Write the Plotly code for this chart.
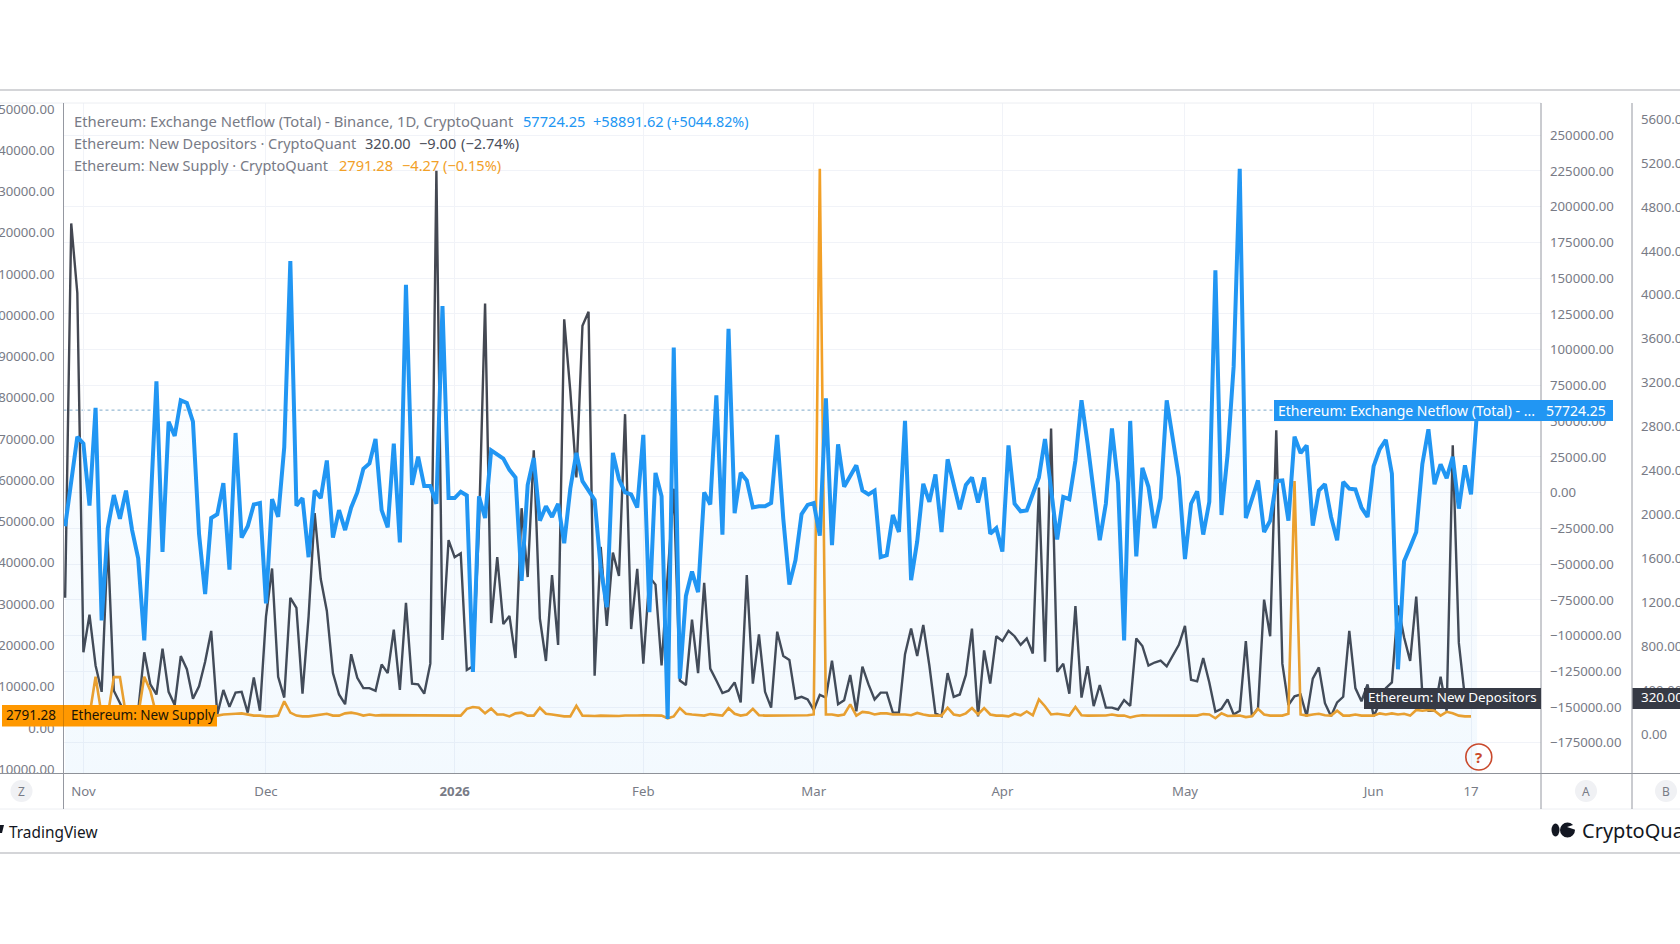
import pandas as pd
import plotly.graph_objects as go

# Daily series, all starting 2025-10-29
netflow = [
    -23550, 8034, 39092, 34354, -9074, 59358, -89350, -24866, -1704, -18286,
    1454, -26182, -45922, -103300, -10390, 77782, -41448, 49620, 39618, 64622,
    62780, 49620, -28814, -70926, -17760, -15128, 6718, -53818, 41724, -31446,
    -23550, -8284, -7232, -77506, -4600, -16970, 31722, 162006, -9074, -3810,
    -45132, 1454, -3810, 22510, -31446, -12232, -26182, -10390, 138, 16720,
    20404, 37512, -12232, -24340, 34354, -34868, 145424, 5402, 25142, 4612,
    4612, -7758, 130422, -3810, -3810, 664, -1968, -125408, -2494, -17760,
    29616, 26984, 23826, 15930, 10666, -61714, 5402, 24352, -19602, -9600,
    -16970, -7758, -35394, 2770, 27774, 8034, 1454, -5126, -52502, -80138,
    27774, 9350, 138, -1178, -10390, 40408, -83560, 13824, -2494, -158308,
    101470, -130146, -72242, -55134, -69610, 138, -8284, 68044, -29340, 114630,
    -14338, 13824, 8560, -10390, -9600, -9600, -7232, 40408, -18286, -64346,
    -47238, -15128, -8548, -7232, -30130, 65938, -36710, 33828, 4086, 11982,
    19088, 1454, -1178, 1454, -45132, -43816, -15654, -27498, 50146, -61188,
    -34078, 6192, -6442, 12772, -27498, 23300, 6718, -11706, 5402, 10666,
    -6968, 10666, -28814, -24866, -41184, 33038, -7758, -13022, -12496, -1178,
    10666, 37512, 138, -32762, -3020, -4600, 22510, 64622, 34354, 2770,
    -33288, -7758, 44882, 6718, -103300, 50146, -44606, 17246, 4086, -24866,
    -3810, 64622, 39618, 10666, -46448, -7758, 928, -29340, -6442, 155426,
    -15654, 26458, 88310, 226490, -17760, -3810, 8560, -27498, -19602, 8034,
    8560, -19602, 39092, 27774, 33038, -23024, 1454, 5928, -16970, -33288,
    7508, 2770, 2244, -10390, -16970, 18562, 30406, 36986, 13298, -123566,
    -48028, -38026, -27498, 19878, 44356, 5928, 19878, 10140, 25142, -11180,
    19088, -1167.37, 57724.25,
]

depositors = [
    1240, 4651, 4017, 743, 1086, 623, 383, 1754, 393, 280,
    170, 160, 211, 743, 451, 359, 777, 383, 263, 709,
    589, 321, 434, 657, 938, 177, 400, 246, 376, 383,
    194, 513, 211, 1069, 1507, 520, 331, 1240, 1147, 366,
    1069, 2011, 1411, 1120, 554, 359, 270, 726, 510, 417,
    417, 393, 633, 554, 949, 400, 1195, 458, 451, 366,
    640, 5131, 856, 1765, 1610, 1645, 582, 616, 1891, 3921,
    1010, 1610, 1000, 1075, 691, 2056, 1429, 2584, 1051, 664,
    1446, 811, 3777, 3126, 2337, 3719, 3846, 530, 1703, 983,
    1651, 1439, 2913, 955, 1504, 640, 1429, 1360, 623, 1446,
    2234, 486, 445, 1041, 554, 1377, 595, 486, 372, 393,
    469, 287, 1446, 458, 907, 383, 239, 931, 709, 674,
    321, 338, 314, 218, 355, 331, 667, 270, 307, 537,
    205, 613, 451, 314, 376, 376, 194, 194, 726, 959,
    709, 993, 623, 187, 160, 554, 338, 359, 537, 959,
    160, 760, 458, 890, 846, 938, 890, 811, 870, 733,
    2245, 657, 2783, 565, 640, 366, 1165, 331, 616, 253,
    445, 239, 239, 222, 307, 256, 870, 801, 623, 650,
    667, 616, 719, 811, 983, 493, 479, 691, 469, 201,
    229, 314, 177, 211, 846, 160, 235, 1223, 890, 2766,
    640, 263, 342, 359, 160, 503, 606, 280, 160, 287,
    338, 938, 417, 297, 451, 160, 280, 417, 469, 1171,
    880, 664, 1250, 366, 211, 211, 520, 211, 2629, 829,
    329, 320,
]

new_supply = [
    2980, 3000, 3050, 3000, 3000, 12400, 3100, 3000, 12300, 12300,
    3100, 3000, 3000, 12400, 9000, 3100, 3000, 3000, 2980, 3100,
    3000, 2950, 3000, 3050, 3000, 2980, 3253, 3435, 3435, 3527,
    3253, 2980, 2980, 2797, 2797, 2980, 6445, 3709, 2980, 2797,
    2797, 2980, 3253, 3435, 2980, 2980, 3527, 3709, 3435, 2980,
    3250, 3000, 3100, 3100, 2980, 2980, 2980, 3000, 2980, 2980,
    3000, 3050, 3100, 3000, 2980, 2980, 4621, 5077, 4895, 3527,
    4712, 3253, 3253, 2797, 3527, 3709, 2980, 2980, 4895, 3435,
    3253, 2980, 2797, 2797, 5351, 2980, 2888, 2888, 2980, 2900,
    3000, 2900, 3000, 2950, 3000, 3050, 3000, 2950, 2980, 2341,
    2797, 4803, 3435, 3253, 3071, 2980, 3344, 3071, 2980, 4803,
    3435, 2980, 3253, 4621, 3071, 2980, 2980, 2980, 2950, 2980,
    2980, 3050, 3050, 3253, 135500, 3253, 3253, 2980, 3253, 5713,
    2980, 3891, 3709, 3253, 3527, 3527, 3253, 3253, 3253, 3071,
    3618, 3253, 2980, 2980, 2980, 4895, 3253, 2980, 3527, 4803,
    3253, 4803, 3253, 2980, 2980, 2797, 3435, 3071, 3983, 3071,
    6901, 5259, 3253, 3435, 3253, 2980, 5077, 3071, 2980, 2980,
    2980, 3000, 3253, 2980, 2980, 2523, 2888, 3071, 3000, 2980,
    2980, 2980, 2980, 2980, 2980, 3000, 2980, 3344, 3253, 2341,
    3527, 2888, 2980, 2980, 2615, 2797, 4621, 3253, 2980, 2980,
    2980, 3435, 59800, 3253, 2980, 3253, 3435, 3071, 2980, 4165,
    2980, 2980, 3253, 2980, 2980, 2980, 3527, 3253, 3527, 3253,
    3435, 2980, 4347, 4165, 4347, 4165, 2980, 3891, 3527, 2980,
    2795.55, 2791.28,
]

assert len(netflow) == 233 and len(depositors) == 232 and len(new_supply) == 232

days = pd.date_range("2025-10-29", periods=len(netflow), freq="D")

tick_dates = ["2025-11-01", "2025-12-01", "2026-01-01", "2026-02-01", "2026-03-01",
              "2026-04-01", "2026-05-01", "2026-06-01", "2026-06-17"]
tick_labels = ["Nov", "Dec", "<b>2026</b>", "Feb", "Mar", "Apr", "May", "Jun", "17"]

W, H = 1680, 944
BLUE, DARK, ORANGE = "#2196f3", "#444852", "#f2a027"
GREY = "#787b86"
RULE = "#9598a1"
GRID = "#f1f3f8"
VALUE_DARK = "#4a4e59"
FONT = "Noto Sans"


def fx(px):
    return px / W


def fy(py):
    return 1 - py / H


NETFLOW_RANGE = [-196434, 272517]
fig = go.Figure()

fig.add_trace(go.Scatter(x=days[:len(depositors)], y=depositors, yaxis="y", mode="lines",
                         line=dict(color=DARK, width=2.4), hoverinfo="skip"))
fig.add_trace(go.Scatter(x=days[:len(new_supply)], y=new_supply, yaxis="y2", mode="lines",
                         line=dict(color=ORANGE, width=2.6), hoverinfo="skip"))
# Area under the netflow line reaches down to the bottom of the pane
fig.add_trace(go.Scatter(x=days, y=[NETFLOW_RANGE[0]] * len(days), yaxis="y3", mode="lines",
                         line=dict(width=0), hoverinfo="skip"))
fig.add_trace(go.Scatter(x=days, y=netflow, yaxis="y3", mode="lines", fill="tonexty",
                         fillgradient=dict(type="vertical", start=NETFLOW_RANGE[0], stop=60000,
                                           colorscale=[[0, "rgba(33,150,243,0.055)"],
                                                       [1, "rgba(33,150,243,0.02)"]]),
                         line=dict(color=BLUE, width=4), hoverinfo="skip"))


def line(x0, y0, x1, y1, color=RULE, width=1, dash="solid", layer="above"):
    return dict(type="line", xref="paper", yref="paper", x0=fx(x0), y0=fy(y0), x1=fx(x1), y1=fy(y1),
                line=dict(color=color, width=width, dash=dash), layer=layer)


def box(x0, y0, x1, y1, fill):
    return dict(type="rect", xref="paper", yref="paper", x0=fx(x0), y0=fy(y0), x1=fx(x1), y1=fy(y1),
                fillcolor=fill, line=dict(width=0), layer="above")


def disc(cx, cy, r, fill, stroke=None, stroke_w=0):
    return dict(type="circle", xref="paper", yref="paper", x0=fx(cx - r), y0=fy(cy - r),
                x1=fx(cx + r), y1=fy(cy + r), fillcolor=fill,
                line=dict(color=stroke or fill, width=stroke_w), layer="above")


def poly(points, fill):
    path = "M" + " L".join(f"{fx(a):.5f},{fy(b):.5f}" for a, b in points) + " Z"
    return dict(type="path", xref="paper", yref="paper", path=path, fillcolor=fill,
                line=dict(width=0), layer="above")


shapes = [
    line(0, 90, W, 90, color="#a9abb1"),
    line(0, 853, W, 853, color="#a9abb1"),
    line(0, 103, 1541, 103, color="#eceef2"),
    line(0, 773.5, W, 773.5, color="#8f9299"),
    line(0, 809, W, 809, color="#eceef2"),
    line(63.5, 103, 63.5, 809),
    line(1541, 103, 1541, 809),
    line(1632, 103, 1632, 809),
    # Dotted last-value guide of the netflow series
    dict(type="line", xref="paper", yref="y3", x0=fx(63.5), x1=fx(1274), y0=netflow[-1], y1=netflow[-1],
         line=dict(color="#7fa9c9", width=1, dash="dot"), layer="below"),
    box(2, 705, 217, 726.5, "#ff9800"),
    line(63.5, 705, 63.5, 726.5, color="rgba(0,0,0,0.18)"),
    box(1274, 400, 1613, 421, BLUE),
    box(1364, 688, 1541, 709, "#363a45"),
    box(1632.5, 688, W, 709, "#363a45"),
    disc(21.5, 791, 11, "#f0f1f4"),
    disc(1586, 791, 11, "#f0f1f4"),
    disc(1666, 791, 11, "#f0f1f4"),
    disc(1478.8, 757, 13, "rgba(0,0,0,0)", stroke="#c9492c", stroke_w=1.6),
    # TradingView mark, cut off by the page edge
    poly([(0, 825), (4, 825), (2, 833), (0, 833)], "#131722"),
    # CryptoQuant mark
    disc(1567.5, 830, 7.5, "#131722"),
    poly([(1567, 827), (1576, 824), (1576, 830)], "#ffffff"),
    dict(type="circle", xref="paper", yref="paper", x0=fx(1551.5), y0=fy(823.5), x1=fx(1559.5), y1=fy(836.5),
         fillcolor="#131722", line=dict(width=0), layer="above"),
]


def label(x, y, text, color=GREY, size=14.6, anchor="left", **kw):
    return dict(xref="paper", yref="paper", x=fx(x), y=fy(y), text=text, showarrow=False, xanchor=anchor,
                yanchor="middle", align="left", borderpad=0,
                font=dict(family=FONT, size=size, color=color), **kw)


annotations = [
    label(73, 121.5, "Ethereum: Exchange Netflow (Total) - Binance, 1D, CryptoQuant", size=14.8),
    label(521.5, 121.5, "57724.25", BLUE),
    label(592, 121.5, "+58891.62", BLUE),
    label(666, 121.5, "(+5044.82%)", BLUE, size=14.3),
    label(73, 143, "Ethereum: New Depositors · CryptoQuant", size=14.5),
    label(364, 143, "320.00", VALUE_DARK),
    label(418, 143, "−9.00", VALUE_DARK),
    label(460, 143, "(−2.74%)", VALUE_DARK),
    label(73, 164.5, "Ethereum: New Supply · CryptoQuant", size=14.5),
    label(338, 164.5, "2791.28", ORANGE),
    label(401, 164.5, "−4.27", ORANGE),
    label(442, 164.5, "(−0.15%)", ORANGE),
    label(4.5, 715, "2791.28", "#1b1405", size=13.5),
    label(70, 715, "Ethereum: New Supply", "#1b1405", size=13.5),
    label(1277, 410, "Ethereum: Exchange Netflow (Total) - ...", "#ffffff", size=14),
    label(1607, 410, "57724.25", "#ffffff", size=14, anchor="right"),
    label(1367, 697, "Ethereum: New Depositors", "#ffffff", size=13.4),
    label(1640, 697, "320.00", "#ffffff", size=13.4),
    label(21.5, 791, "Z", GREY, size=12, anchor="center"),
    label(1586, 791, "A", GREY, size=12, anchor="center"),
    label(1666, 791, "B", GREY, size=12, anchor="center"),
    label(1478.8, 757, "<b>?</b>", "#c9492c", size=15, anchor="center"),
    label(8, 832, "TradingView", "#131722", size=15.4),
    label(1581, 830, "CryptoQuant", "#131722", size=20),
]

axis_font = dict(family=FONT, size=13.2, color=GREY)
fig.update_layout(
    width=W, height=H,
    autosize=False,
    # Labels run off the page edges on purpose, so they must not push the margins
    margin=dict(l=0, r=0, t=0, b=0, pad=0, autoexpand=False),
    paper_bgcolor="#ffffff", plot_bgcolor="#ffffff",
    showlegend=False, hovermode=False,
    xaxis=dict(type="date", domain=[fx(63.5), fx(1541)],
               range=["2025-10-28 17:30", "2026-06-28 12:00"],
               tickmode="array", tickvals=tick_dates, ticktext=tick_labels,
               showgrid=True, gridcolor=GRID, gridwidth=1, zeroline=False, showline=False,
               tickfont=axis_font, ticks="", ticklabelstandoff=8, tickangle=0),
    # New Depositors: outer right scale
    yaxis=dict(domain=[fy(773.5), fy(103)], range=[-361, 5748], side="right",
               anchor="free", position=fx(1632), tick0=0, dtick=400, tickformat=".2f",
               showgrid=False, zeroline=False, showline=False, tickfont=axis_font,
               ticks="", ticklabelstandoff=8),
    # New Supply: left scale, its long labels run off the page edge
    yaxis2=dict(overlaying="y", range=[-11049, 151442], side="left", anchor="x",
                tick0=0, dtick=10000, tickformat=".2f", showgrid=False, zeroline=False,
                showline=False, tickfont=axis_font, ticks="", ticklabelstandoff=8),
    # Exchange Netflow: inner right scale carrying the horizontal grid
    yaxis3=dict(overlaying="y", range=NETFLOW_RANGE, side="right", anchor="x",
                tick0=0, dtick=25000, tickformat=".2f", showgrid=True, gridcolor=GRID,
                gridwidth=1, zeroline=False, showline=False, tickfont=axis_font,
                ticks="", ticklabelstandoff=8),
    shapes=shapes,
    annotations=annotations,
)

# Fixed-size page: the chart fills the window exactly, without the default body inset
fig.write_html(
    "out.html",
    config={"displayModeBar": False, "responsive": False},
    default_width=f"{W}px",
    default_height=f"{H}px",
    post_script="document.body.style.margin = '0'; document.documentElement.style.overflow = 'hidden';",
)
